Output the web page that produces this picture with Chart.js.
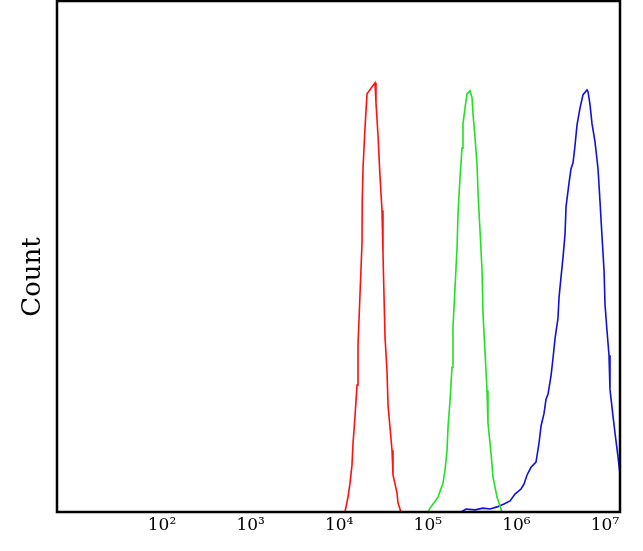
<!DOCTYPE html>
<html>
<head>
<meta charset="utf-8">
<script src="https://cdn.jsdelivr.net/npm/chart.js@4"></script>
<style>
  body { margin: 0; background: #fff; }
</style>
</head>
<body>
<canvas id="histChart" width="643" height="551"></canvas>
<script>
// channel values are stored as log10 exponents, counts as % of mode
const redLog = [4.065, 4.099, 4.122, 4.144, 4.156, 4.178, 4.201, 4.212, 4.235, 4.257, 4.26, 4.269, 4.291, 4.314, 4.404,
  4.415, 4.438, 4.460, 4.483, 4.494, 4.505, 4.517, 4.539, 4.551, 4.573, 4.596, 4.607, 4.652, 4.664, 4.697];
const redCount = [0, 3.5, 6.8, 11.0, 16.2, 22.3, 29.8, 39.1, 51.3, 63.0, 73.1, 80.9, 90.2, 98.2, 100.8,
  96.1, 88.4, 79.0, 70.8, 60.9, 51.3, 41.0, 33.3, 25.1, 19.9, 14.5, 8.7, 4.5, 2.1, 0];

const greenLog = [5.002, 5.025, 5.115, 5.171, 5.194, 5.217, 5.228, 5.251, 5.273, 5.284, 5.307, 5.330, 5.341, 5.363, 5.386,
  5.397, 5.420, 5.442, 5.476, 5.499, 5.510, 5.533, 5.555, 5.567, 5.589, 5.612, 5.623, 5.646, 5.668, 5.679,
  5.713, 5.736, 5.781, 5.837];
const greenCount = [0, 0.9, 3.5, 6.8, 9.8, 14.5, 19.9, 26.2, 34.0, 43.4, 52.7, 62.1, 70.1, 78.5, 85.5,
  91.2, 94.9, 98.2, 98.9, 97.3, 93.5, 87.9, 81.8, 74.8, 66.1, 56.7, 46.6, 37.3, 28.6, 20.9,
  13.8, 8.2, 3.5, 0];

const blueLog = [5.375, 5.431, 5.533, 5.623, 5.702, 5.781, 5.860, 5.928, 5.984, 6.052, 6.086, 6.120, 6.165, 6.221, 6.255,
  6.278, 6.312, 6.334, 6.357, 6.391, 6.413, 6.436, 6.469, 6.481, 6.503, 6.526, 6.549, 6.560, 6.594, 6.616,
  6.639, 6.661, 6.684, 6.718, 6.752, 6.797, 6.808, 6.831, 6.853, 6.887, 6.921, 6.944, 6.966, 6.989, 7.000,
  7.023, 7.045, 7.056, 7.090, 7.113, 7.147, 7.169, 7.214];
const blueCount = [0, 0.7, 0.5, 0.9, 0.7, 1.2, 1.9, 2.6, 4.2, 5.4, 6.6, 8.7, 10.5, 11.7, 16.2,
  20.2, 23.2, 26.5, 27.7, 32.1, 36.1, 40.8, 45.5, 50.4, 55.1, 59.8, 65.4, 71.7, 77.3, 80.6,
  82.0, 86.0, 90.9, 94.9, 98.0, 99.1, 98.7, 95.6, 91.2, 86.9, 80.6, 72.7, 64.7, 56.7, 48.7,
  42.4, 36.8, 28.8, 22.5, 18.5, 12.9, 8.9, 4.0];

const tickValues = [1e2, 1e3, 1e4, 1e5, 1e6, 1e7];
const tickLabels = ['10²', '10³', '10⁴', '10⁵', '10⁶', '10⁷'];

function toPoints(logs, counts) {
    return logs.map((e, i) => ({ x: Math.pow(10, e), y: counts[i] }));
}

const framePlugin = {
    id: 'frame',
    afterDraw(chart) {
        const { ctx, chartArea } = chart;
        ctx.save();
        ctx.strokeStyle = '#000';
        ctx.lineWidth = 2.5;
        ctx.strokeRect(chartArea.left, chartArea.top, chartArea.right - chartArea.left, chartArea.bottom - chartArea.top);
        // y axis title
        ctx.translate(33, 277);
        ctx.rotate(-Math.PI / 2);
        ctx.fillStyle = '#000';
        ctx.font = '26px "DejaVu Serif"';
        ctx.textAlign = 'center';
        ctx.textBaseline = 'middle';
        ctx.fillText('Count', 0, 0);
        ctx.restore();
    }
};

const ctx = document.getElementById('histChart');
new Chart(ctx, {
    type: 'line',
    data: {
        datasets: [
            { data: toPoints(redLog, redCount), borderColor: '#ff1010', borderWidth: 1.6, pointRadius: 0, tension: 0 },
            { data: toPoints(greenLog, greenCount), borderColor: '#22e022', borderWidth: 1.6, pointRadius: 0, tension: 0 },
            { data: toPoints(blueLog, blueCount), borderColor: '#1010d8', borderWidth: 1.6, pointRadius: 0, tension: 0 }
        ]
    },
    options: {
        responsive: false,
        animation: false,
        layout: { padding: { left: 57, right: 23, top: 1, bottom: 0 } },
        plugins: { legend: { display: false }, tooltip: { enabled: false } },
        scales: {
            x: {
                type: 'logarithmic',
                min: Math.pow(10, 0.815),
                max: Math.pow(10, 7.169),
                grid: { display: false, drawTicks: false },
                border: { display: false },
                afterBuildTicks: (scale) => { scale.ticks = tickValues.map(v => ({ value: v })); },
                afterFit: (scale) => { scale.height = 39; },
                ticks: {
                    autoSkip: false,
                    maxRotation: 0,
                    padding: 3,
                    color: '#000',
                    font: { family: '"DejaVu Serif"', size: 17 },
                    callback: (value, index) => tickLabels[index]
                }
            },
            y: {
                display: false,
                min: 0,
                max: 120
            }
        }
    },
    plugins: [framePlugin]
});
</script>
</body>
</html>
